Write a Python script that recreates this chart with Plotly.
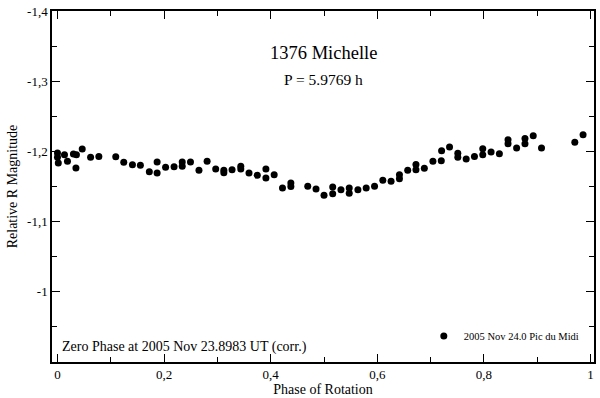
import plotly.graph_objects as go

# Lightcurve of 1376 Michelle, 2005 Nov 24.0 (Pic du Midi)
phase = [
    0.000, 0.000, 0.0015, 0.0131, 0.0187, 0.0299, 0.0355, 0.0346, 0.0464, 0.0621,
    0.0776, 0.1093, 0.1243, 0.1406, 0.1555, 0.1723, 0.1869, 0.1869, 0.2028, 0.2187,
    0.2340, 0.2340, 0.2495, 0.2654, 0.2807, 0.2968, 0.3121, 0.3121, 0.3275, 0.3439,
    0.3439, 0.3593, 0.3748, 0.3910, 0.3910, 0.4065, 0.4221, 0.4378, 0.4378, 0.4695,
    0.4850, 0.5000, 0.5163, 0.5163, 0.5318, 0.5473, 0.5473, 0.5636, 0.5791, 0.5948,
    0.6103, 0.6258, 0.6415, 0.6415, 0.6570, 0.6725, 0.6725, 0.6882, 0.7043, 0.7200,
    0.7206, 0.7355, 0.7510, 0.7510, 0.7667, 0.7822, 0.7978, 0.7978, 0.8134, 0.8290,
    0.8452, 0.8452, 0.8613, 0.8770, 0.8770, 0.8925, 0.9080, 0.9705, 0.9860,
]
mag = [
    -1.1977, -1.1915, -1.1835, -1.1953, -1.1861, -1.1963, -1.1953, -1.1764, -1.2034, -1.1915,
    -1.1929, -1.1925, -1.1844, -1.1811, -1.1801, -1.1709, -1.1849, -1.1693, -1.1773, -1.1783,
    -1.1849, -1.1787, -1.1849, -1.1733, -1.1858, -1.1750, -1.1730, -1.1697, -1.1740, -1.1787,
    -1.1750, -1.1693, -1.1659, -1.1751, -1.1622, -1.1669, -1.1480, -1.1551, -1.1499, -1.1503,
    -1.1463, -1.1375, -1.1494, -1.1396, -1.1452, -1.1480, -1.1403, -1.1452, -1.1480, -1.1503,
    -1.1588, -1.1574, -1.1669, -1.1609, -1.1730, -1.1815, -1.1740, -1.1759, -1.1858, -1.1868,
    -1.2010, -1.2063, -1.1972, -1.1918, -1.1892, -1.1929, -1.2036, -1.1953, -1.1991, -1.1967,
    -1.2166, -1.2109, -1.2048, -1.2185, -1.2109, -1.2223, -1.2048, -1.2131, -1.2237,
]

x_ticks = [0, 0.2, 0.4, 0.6, 0.8, 1.0]
x_ticktext = ['0', '0,2', '0,4', '0,6', '0,8', '1']
x_minor = [0.1, 0.3, 0.5, 0.7, 0.9]
y_ticks = [-1.4, -1.3, -1.2, -1.1, -1.0]
y_ticktext = ['-1,4', '-1,3', '-1,2', '-1,1', '-1']
y_minor = [-1.35, -1.25, -1.15, -1.05, -0.95]

SERIF = 'Liberation Serif'

fig = go.Figure()

fig.add_trace(go.Scatter(
    x=phase,
    y=mag,
    mode='markers',
    name='2005 Nov 24.0 Pic du Midi',
    marker=dict(color='black', size=7),
))

axis_common = dict(
    showline=True,
    linecolor='black',
    linewidth=1.5,
    mirror='ticks',
    ticks='inside',
    ticklen=8,
    tickwidth=1,
    tickcolor='black',
    showgrid=False,
    zeroline=False,
    tickfont=dict(family=SERIF, size=13, color='black'),
)

fig.update_layout(
    width=600,
    height=398,
    margin=dict(l=52, r=4, t=11, b=36),
    plot_bgcolor='white',
    paper_bgcolor='white',
    font=dict(family=SERIF, color='black'),
    xaxis=dict(
        range=[-0.0103, 1.0065],
        tickvals=x_ticks,
        ticktext=x_ticktext,
        minor=dict(tickvals=x_minor, ticks='inside', ticklen=5, tickcolor='black'),
        title=dict(text='Phase of Rotation', font=dict(family=SERIF, size=14), standoff=2),
        **axis_common
    ),
    yaxis=dict(
        range=[-0.9, -1.4],
        tickvals=y_ticks,
        ticktext=y_ticktext,
        minor=dict(tickvals=y_minor, ticks='inside', ticklen=5, tickcolor='black'),
        title=dict(text='Relative R Magnitude', font=dict(family=SERIF, size=14), standoff=6),
        **axis_common
    ),
    showlegend=True,
    legend=dict(
        x=0.686, y=0.074, xanchor='left', yanchor='middle',
        bgcolor='rgba(0,0,0,0)',
        font=dict(family=SERIF, size=10.5, color='black'),
    ),
)

fig.add_annotation(
    text='1376 Michelle', xref='paper', yref='paper',
    x=0.5, y=(362 - 52.7) / 351, yanchor='middle', showarrow=False,
    font=dict(family=SERIF, size=18.5),
)
fig.add_annotation(
    text='P = 5.9769 h', xref='paper', yref='paper',
    x=0.5, y=(362 - 79.3) / 351, yanchor='middle', showarrow=False,
    font=dict(family=SERIF, size=15.5),
)
fig.add_annotation(
    text='Zero Phase at 2005 Nov 23.8983 UT (corr.)', xref='paper', yref='paper',
    x=(60 - 52) / 544, y=(362 - 346.7) / 351, xanchor='left', yanchor='middle',
    showarrow=False,
    font=dict(family=SERIF, size=14),
)

fig.write_html(
    'out.html',
    config={'displayModeBar': False},
    post_script="document.body.style.margin='0';",
)
